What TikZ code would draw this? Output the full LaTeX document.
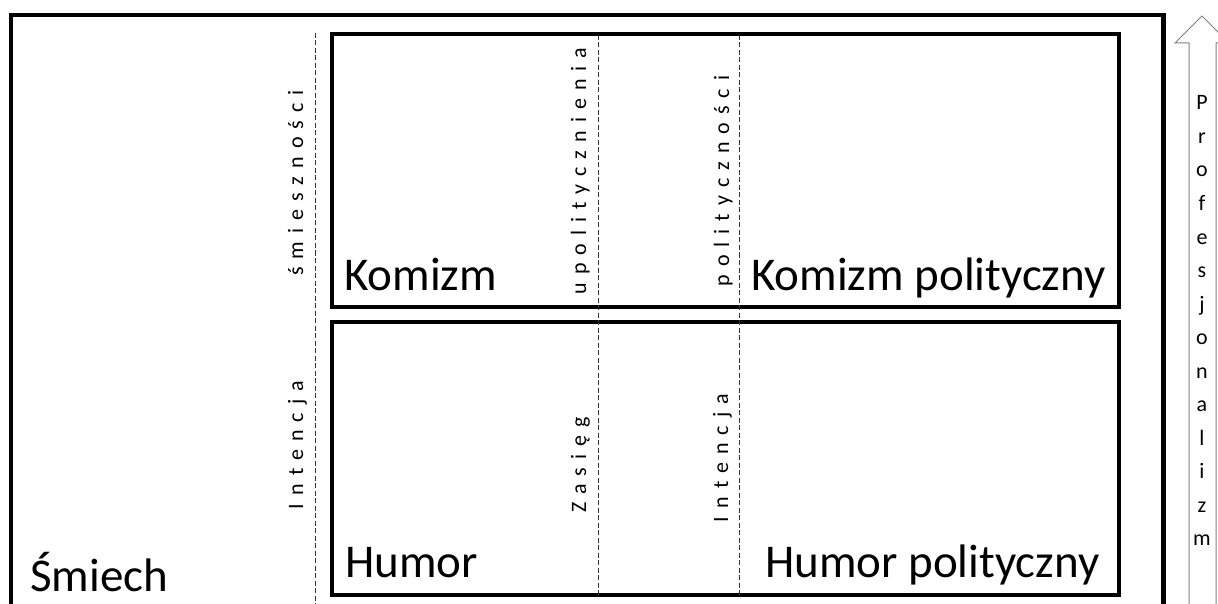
\documentclass[tikz,border=0pt]{standalone}
\usepackage{fontspec}
\setmainfont{Carlito}
\newcommand\widesp{\spaceskip=8pt plus 0pt minus 0pt\relax}
\begin{document}
\begin{tikzpicture}[x=1pt,y=-1pt,
  frame/.style={line width=4.5pt},
  box/.style={draw,line width=4pt,minimum width=787pt,minimum height=273pt,inner sep=0pt},
  sep/.style={dash pattern=on 5pt off 2.5pt,line width=0.9pt,black!80},
  big/.style={font=\fontsize{47}{52}\selectfont,inner sep=0pt,anchor=base west},
  vlab/.style={font=\fontsize{22}{26}\selectfont,inner sep=0pt,anchor=base,rotate=90},
  prof/.style={font=\fontsize{22}{26}\selectfont,inner sep=0pt,anchor=base},
  arr/.style={draw=black!50,line width=1pt,fill=white}]
\useasboundingbox (0,0) rectangle (1218,604);
\clip (0,0) rectangle (1218,604);
% outer frame
\draw[frame] (11,15) rectangle (1163.5,640);
% boxes
\node[box] (top) at (725.5,170.5) {};
\node[box] (bot) at (725.5,458.5) {};
% dashed separators
\coordinate (d1a) at (315,33);
\coordinate (d1b) at (315,604);
\coordinate (d2a) at (598,35);
\coordinate (d2b) at (598,596);
\coordinate (d3a) at (739,35);
\coordinate (d3b) at (739,596);
\draw[sep] (d1a) -- (d1b);
\draw[sep] (d2a) -- (d2b);
\draw[sep] (d3a) -- (d3b);
% main labels
\node[big] (smiech) at (30,591) {Śmiech};
\node[big] (komizm) at (344,290) {Komizm};
\node[big] (komizmp) at (751,290) {Komizm polityczny};
\node[big] (humor) at (345,577) {Humor};
\node[big] (humorp) at (765,577) {Humor polityczny};
% vertical labels
\node[vlab] (l1) at (303,183) {\widesp ś m i e s z n o ś c i};
\node[vlab] (l2) at (303,445) {\widesp I n t e n c j a};
\node[vlab] (l3) at (586,171) {\widesp u p o l i t y c z n i e n i a};
\node[vlab] (l4) at (729,181) {\widesp p o l i t y c z n o ś c i};
\node[vlab] (l5) at (586,465) {\widesp Z a s i ę g};
\node[vlab] (l6) at (728,458) {\widesp I n t e n c j a};
% arrow
\coordinate (a1) at (1189,620);
\coordinate (a2) at (1189,43);
\coordinate (a3) at (1175,43);
\coordinate (tip) at (1202,16);
\coordinate (a5) at (1229,43);
\coordinate (a6) at (1216,43);
\coordinate (a7) at (1216,620);
\draw[arr] (a1) -- (a2) -- (a3) -- (tip) -- (a5) -- (a6) -- (a7);
\foreach \l [count=\i] in {P,r,o,f,e,s,j,o,n,a,l,i,z,m}
  \node[prof] (p\i) at (1202,{110+33.5*(\i-1)}) {\l};
\end{tikzpicture}
\end{document}
